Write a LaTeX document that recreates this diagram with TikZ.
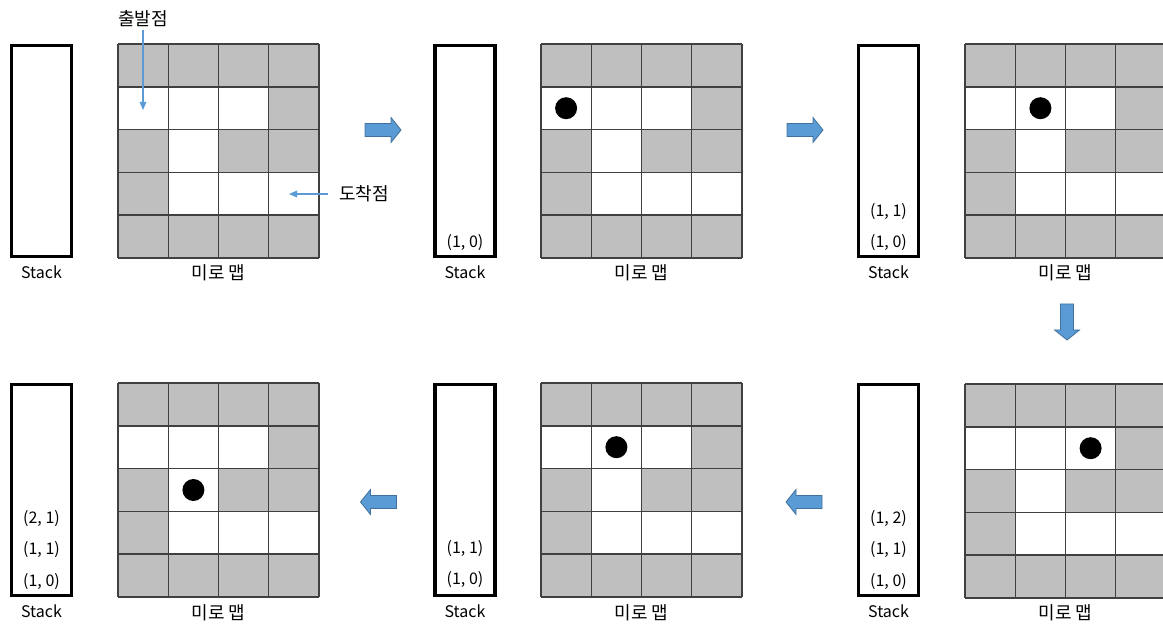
\documentclass[tikz,border=0pt]{standalone}
\usepackage{fontspec}
\setmainfont{Noto Sans CJK KR}
\usepackage{tikz}
\usetikzlibrary{positioning, arrows.meta}
\definecolor{wallgray}{RGB}{191,191,191}
\definecolor{flowblue}{RGB}{91,155,213}
\definecolor{flowedge}{RGB}{65,113,156}

\begin{document}
\begin{tikzpicture}[
  x=0.75pt, y=0.75pt,
  font=\fontsize{12}{14}\selectfont,
  stackbox/.style={draw, line width=2.3pt, minimum width=45pt,
    minimum height=158pt, inner sep=0pt},
  entry/.style={inner sep=0pt},
  caption/.style={inner sep=0pt},
  hangul/.style={inner sep=0pt, font=\fontsize{13.5}{15}\selectfont},
  token/.style={circle, fill=black, minimum size=16.5pt, inner sep=0pt},
  cellline/.style={draw=black!75, line width=1.1pt},
  pointer/.style={-{Triangle[length=6pt, width=5pt]}, flowblue, line width=0.8pt},
  bigarrow/.pic={
    \filldraw[fill=flowblue, draw=flowedge, line width=0.6pt]
      (-18,-6.5) -- (8,-6.5) -- (8,-12.5) -- (18,0) -- (8,12.5)
      -- (8,6.5) -- (-18,6.5) -- cycle;},
  maze/.pic={
    \fill[wallgray] (0,0) rectangle (201,214);
    \fill[white] (0,128.4) rectangle (150.75,171.2);
    \fill[white] (50.25,85.6) rectangle (100.5,128.4);
    \fill[white] (50.25,42.8) rectangle (201,85.6);
    \foreach \c in {0,...,4} \draw[cellline] (\c*50.25,0) -- (\c*50.25,214);
    \foreach \r in {0,...,5} \draw[cellline] (0,\r*42.8) -- (201,\r*42.8);}
]
  \useasboundingbox (0,0) rectangle (1163,628);

  % top row
  \node[stackbox] (stackA) at (41.5,477) {};
  \pic at (118,370) {maze};
  \node[caption, below=6pt of stackA] (capA) {Stack};
  \node[hangul] (mapA) at (218.5,355) {미로 맵};

  \node[hangul] (start) at (143,609) {출발점};
  \coordinate (startcell) at (143,518);
  \draw[pointer, shorten <=2pt] (start.south) -- (startcell);
  \node[hangul] (goal) at (364,434) {도착점};
  \coordinate (goalcell) at (289,434);
  \draw[pointer, shorten <=8pt] (goal.west) -- (goalcell);

  \pic at (383,498) {bigarrow};

  \node[stackbox] (stackB) at (465,477) {};
  \pic at (541,370) {maze};
  \node[caption, below=6pt of stackB] (capB) {Stack};
  \node[hangul] (mapB) at (641.5,355) {미로 맵};
  \node[entry] (b1) at (465,385) {(1, 0)};
  \node[token] (posB) at (566.1,519.8) {};

  \pic at (805,498) {bigarrow};

  \node[stackbox] (stackC) at (888.5,477) {};
  \pic at (965,370) {maze};
  \node[caption, below=6pt of stackC] (capC) {Stack};
  \node[hangul] (mapC) at (1065.5,355) {미로 맵};
  \node[entry] (c2) at (888.5,416) {(1, 1)};
  \node[entry] (c1) at (888.5,385) {(1, 0)};
  \node[token] (posC) at (1040.4,519.8) {};

  \pic[rotate=-90] at (1067,306) {bigarrow};

  % bottom row
  \node[stackbox] (stackD) at (888.5,138) {};
  \pic at (965,30) {maze};
  \node[caption, below=6pt of stackD] (capD) {Stack};
  \node[hangul] (mapD) at (1065.5,15) {미로 맵};
  \node[entry] (d3) at (888.5,109) {(1, 2)};
  \node[entry] (d2) at (888.5,78) {(1, 1)};
  \node[entry] (d1) at (888.5,46) {(1, 0)};
  \node[token] (posD) at (1090.6,179.8) {};

  \pic[rotate=180] at (804,126) {bigarrow};

  \node[stackbox] (stackE) at (465,138) {};
  \pic at (541,31) {maze};
  \node[caption, below=6pt of stackE] (capE) {Stack};
  \node[hangul] (mapE) at (641.5,15) {미로 맵};
  \node[entry] (e2) at (465,79) {(1, 1)};
  \node[entry] (e1) at (465,48) {(1, 0)};
  \node[token] (posE) at (616.4,180.8) {};

  \pic[rotate=180] at (378.5,126) {bigarrow};

  \node[stackbox] (stackF) at (41.5,138) {};
  \pic at (118,31) {maze};
  \node[caption, below=6pt of stackF] (capF) {Stack};
  \node[hangul] (mapF) at (218.5,15) {미로 맵};
  \node[entry] (f3) at (41.5,109) {(2, 1)};
  \node[entry] (f2) at (41.5,78) {(1, 1)};
  \node[entry] (f1) at (41.5,46) {(1, 0)};
  \node[token] (posF) at (193.4,138) {};
\end{tikzpicture}
\end{document}
